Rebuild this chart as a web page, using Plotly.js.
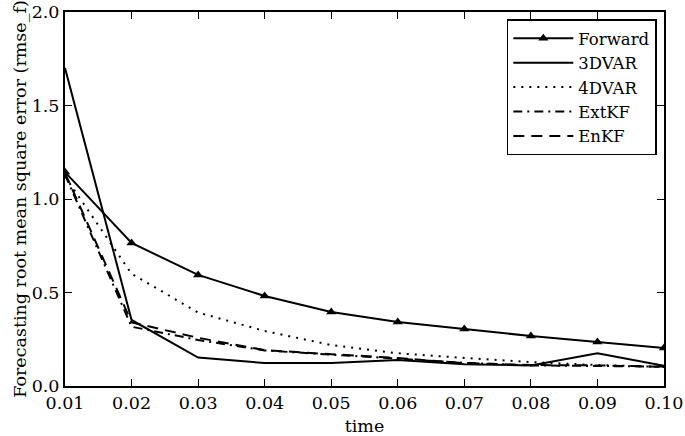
<!DOCTYPE html>
<html>
<head>
<meta charset="utf-8">
<script src="https://cdn.plot.ly/plotly-3.0.1.min.js"></script>
<style>html,body{margin:0;padding:0;background:#fff;}#chart{width:685px;height:436px;}</style>
</head>
<body>
<div id="chart"></div>
<script>
const time = [0.01, 0.02, 0.03, 0.04, 0.05, 0.06, 0.07, 0.08, 0.09, 0.10];
const forward = [1.144, 0.765, 0.594, 0.481, 0.396, 0.342, 0.305, 0.267, 0.235, 0.203];
const dvar3 = [1.70, 0.353, 0.152, 0.123, 0.123, 0.139, 0.116, 0.110, 0.175, 0.108];
const dvar4 = [1.12, 0.60, 0.393, 0.294, 0.219, 0.175, 0.150, 0.128, 0.112, 0.102];
const extkf = [1.13, 0.317, 0.246, 0.190, 0.168, 0.148, 0.124, 0.110, 0.108, 0.104];
const enkf = [1.14, 0.340, 0.258, 0.192, 0.170, 0.150, 0.122, 0.112, 0.110, 0.103];
const tickVals = [0.01, 0.02, 0.03, 0.04, 0.05, 0.06, 0.07, 0.08, 0.09, 0.10];
const tickText = ['0.01', '0.02', '0.03', '0.04', '0.05', '0.06', '0.07', '0.08', '0.09', '0.10'];

const font = 'DejaVu Serif';
const fs = 17.5;
const lw = 2;
const traces = [
  {x: time, y: forward, name: 'Forward', mode: 'lines+markers',
   line: {color: '#000', width: lw}, marker: {symbol: 'triangle-up', size: 9, color: '#000'}},
  {x: time, y: dvar3, name: '3DVAR', mode: 'lines', line: {color: '#000', width: lw}},
  {x: time, y: dvar4, name: '4DVAR', mode: 'lines', line: {color: '#000', width: lw, dash: '2px,6px'}},
  {x: time, y: extkf, name: 'ExtKF', mode: 'lines', line: {color: '#000', width: lw, dash: '9px,5px,2px,5px'}},
  {x: time, y: enkf, name: 'EnKF', mode: 'lines', line: {color: '#000', width: lw, dash: '11px,7px'}}
];

const layout = {
  width: 685, height: 436,
  margin: {l: 65, r: 21, t: 12, b: 50},
  paper_bgcolor: '#fff', plot_bgcolor: '#fff',
  font: {family: font, size: fs, color: '#000'},
  showlegend: true,
  legend: {x: 0.988, y: 0.98, xanchor: 'right', yanchor: 'top',
    bgcolor: '#fff', bordercolor: '#000', borderwidth: 1.5,
    font: {family: font, size: 16.5, color: '#000'}, itemwidth: 60},
  xaxis: {range: [0.01, 0.10], tickvals: tickVals, ticktext: tickText,
    ticks: 'inside', ticklen: 7, tickwidth: 1, tickcolor: '#000', mirror: 'ticks',
    showline: true, linecolor: '#000', linewidth: 2, showgrid: false, zeroline: false,
    tickfont: {family: font, size: fs},
    title: {text: 'time', font: {family: font, size: fs}, standoff: 16}},
  yaxis: {range: [0, 2.0], tickvals: [0, 0.5, 1.0, 1.5, 2.0], ticktext: ['0.0', '0.5', '1.0', '1.5', '2.0'],
    ticks: 'inside', ticklen: 7, tickwidth: 1, tickcolor: '#000', mirror: 'ticks',
    showline: true, linecolor: '#000', linewidth: 2, showgrid: false, zeroline: false,
    tickfont: {family: font, size: fs},
    title: {text: 'Forecasting root mean square error (rmse_f)', font: {family: font, size: fs}, standoff: 1}}
};
Plotly.newPlot('chart', traces, layout, {displayModeBar: false, staticPlot: true});
</script>
</body>
</html>
